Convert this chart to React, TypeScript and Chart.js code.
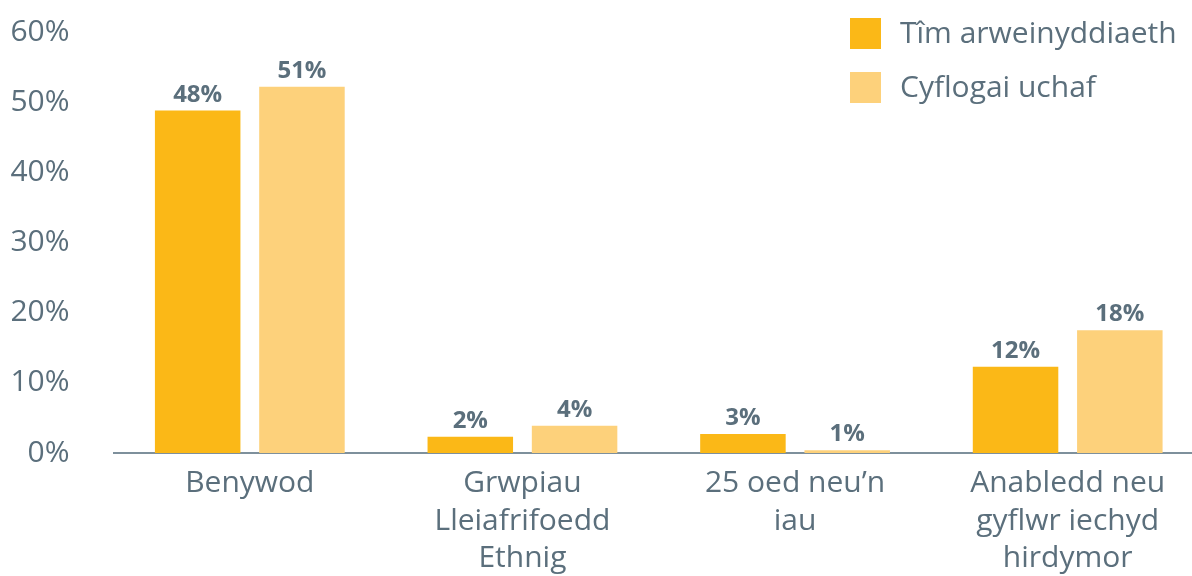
import React, { useEffect, useRef } from "react";
import { Chart, registerables } from "chart.js";

Chart.register(...registerables);

const categories: string[][] = [
  ["Benywod"],
  ["Grwpiau", "Lleiafrifoedd", "Ethnig"],
  ["25 oed neu\u2019n", "iau"],
  ["Anabledd neu", "gyflwr iechyd", "hirdymor"],
];

const seriesNames = ["Tîm arweinyddiaeth", "Cyflogai uchaf"];

// bar heights (percent)
const leadershipValues = [48.8, 2.3, 2.7, 12.3];
const topEarnerValues = [52.2, 3.9, 0.4, 17.5];

// printed value labels
const leadershipLabels = ["48%", "2%", "3%", "12%"];
const topEarnerLabels = ["51%", "4%", "1%", "18%"];

const yTicks = [0, 10, 20, 30, 40, 50, 60];

const COLOR_DARK = "#FBB817";
const COLOR_LIGHT = "#FDD17B";
const TEXT = "#5B6F7C";
const FONT = "'Open Sans', 'Noto Sans', sans-serif";

const valueLabelPlugin = {
  id: "valueLabels",
  afterDatasetsDraw(chart: any) {
    const ctx = chart.ctx;
    const labelSets = [leadershipLabels, topEarnerLabels];
    ctx.save();
    ctx.font = `bold 24px ${FONT}`;
    ctx.fillStyle = TEXT;
    ctx.textAlign = "center";
    ctx.textBaseline = "alphabetic";
    chart.data.datasets.forEach((_ds: any, i: number) => {
      const meta = chart.getDatasetMeta(i);
      meta.data.forEach((el: any, j: number) => {
        ctx.fillText(labelSets[i][j], el.x, el.y - 9);
      });
    });
    ctx.restore();
  },
};

const legendPlugin = {
  id: "cornerLegend",
  afterDraw(chart: any) {
    const ctx = chart.ctx;
    ctx.save();
    ctx.font = `30px ${FONT}`;
    ctx.textBaseline = "middle";
    ctx.textAlign = "left";
    chart.data.datasets.forEach((ds: any, i: number) => {
      const x = 850;
      const y = 18 + i * 54;
      ctx.fillStyle = ds.backgroundColor;
      ctx.fillRect(x, y, 31, 31);
      ctx.fillStyle = TEXT;
      ctx.fillText(ds.label, x + 50, y + 16);
    });
    ctx.restore();
  },
};

export default function App() {
  const canvasRef = useRef<HTMLCanvasElement | null>(null);

  useEffect(() => {
    if (!canvasRef.current) return;
    const chart = new Chart(canvasRef.current, {
      type: "bar",
      data: {
        labels: categories as any,
        datasets: [
          {
            label: seriesNames[0],
            data: leadershipValues,
            backgroundColor: COLOR_DARK,
            categoryPercentage: 0.765,
            barPercentage: 0.82,
          },
          {
            label: seriesNames[1],
            data: topEarnerValues,
            backgroundColor: COLOR_LIGHT,
            categoryPercentage: 0.765,
            barPercentage: 0.82,
          },
        ],
      },
      options: {
        responsive: false,
        animation: false,
        layout: { padding: { top: 32, right: 0, left: 0, bottom: 0 } },
        plugins: {
          legend: { display: false },
          tooltip: { enabled: false },
        },
        scales: {
          x: {
            grid: { display: false, drawTicks: false },
            border: { display: true, color: "#7E909C", width: 2 },
            ticks: {
              color: TEXT,
              font: { family: FONT, size: 30, lineHeight: 1.25 },
              padding: 12,
              maxRotation: 0,
              autoSkip: false,
            },
            afterFit(scale: any) {
              scale.height = 123;
              scale.paddingLeft = 0;
              scale.paddingRight = 0;
            },
          },
          y: {
            min: 0,
            max: 60,
            grid: { display: false, drawTicks: false },
            border: { display: false },
            afterBuildTicks(scale: any) {
              scale.ticks = yTicks.map((v) => ({ value: v }));
            },
            ticks: {
              color: TEXT,
              font: { family: FONT, size: 30 },
              padding: 44,
              callback: (v: any) => `${v}%`,
            },
            afterFit(scale: any) {
              scale.width = 113.5;
              scale.paddingTop = 0;
              scale.paddingBottom = 0;
            },
          },
        },
      },
      plugins: [valueLabelPlugin, legendPlugin],
    });
    return () => chart.destroy();
  }, []);

  return (
    <div
      style={{
        position: "fixed",
        left: 0,
        top: 0,
        width: 1204,
        height: 576,
        background: "#ffffff",
      }}
    >
      <canvas ref={canvasRef} width={1204} height={576} />
    </div>
  );
}
